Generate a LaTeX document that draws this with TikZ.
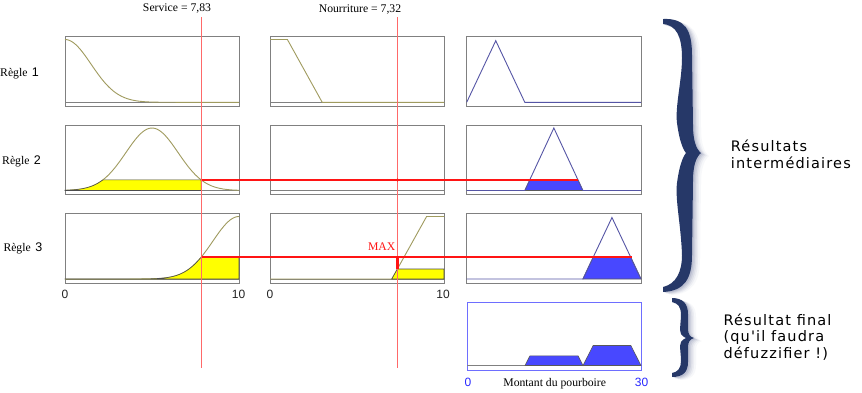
\documentclass[tikz,border=0pt]{standalone}
\usepackage{fontspec}
\setmainfont{Liberation Serif}
\newfontfamily\arialf{Liberation Sans}
\newfontfamily\verdf{DejaVu Sans}[LetterSpace=8]
\definecolor{olivec}{RGB}{160,155,95}
\definecolor{framec}{RGB}{128,128,128}
\definecolor{mfblue}{RGB}{85,85,165}
\definecolor{fillblue}{RGB}{72,72,255}
\definecolor{pinkline}{RGB}{255,105,105}
\definecolor{redthick}{RGB}{255,20,20}
\definecolor{bracec}{RGB}{38,56,104}
\definecolor{finalframe}{RGB}{110,110,255}
\definecolor{yel}{RGB}{255,255,0}
\definecolor{axisnum}{RGB}{35,35,35}
\definecolor{bluenum}{RGB}{40,40,255}
\definecolor{shadowc}{RGB}{110,120,160}
\tikzset{
  panelframe/.style={draw=framec, line width=0.8pt},
  finalpanel/.style={draw=finalframe, line width=0.8pt},
  basel/.style={draw=framec, line width=0.8pt},
  mfo/.style={draw=olivec, line width=0.9pt},
  mfb/.style={draw=mfblue, line width=0.9pt},
  yfill/.style={fill=yel, draw=black!70, line width=0.6pt},
  bfill/.style={fill=fillblue, draw=black!65, line width=0.6pt},
  inputbar/.style={fill=pinkline},
  thickred/.style={draw=redthick, line width=2.2pt},
  serlab/.style={font=\fontsize{11.7}{14}\selectfont, inner sep=0pt},
  numlab/.style={font=\arialf\fontsize{12}{14}\selectfont, inner sep=0pt, text=axisnum},
  sidelab/.style={font=\verdf\fontsize{14.5}{16.7}\selectfont, inner sep=0pt, anchor=base west, text=black},
  bigbrace/.style={insert path={(663,19) .. controls (685,18) and (692,30) .. (692,55) -- (693,125) .. controls (693,140) and (696,149) .. (701,153) .. controls (696,157) and (693,166) .. (693,181) -- (692,255) .. controls (692,278) and (685,291) .. (663,292) -- (663,287) .. controls (676,284) and (682,272) .. (682,255) .. controls (681,225) and (675,200) .. (677,183) .. controls (679,168) and (682,158) .. (686,153) .. controls (682,148) and (679,138) .. (677,123) .. controls (675,106) and (682,80) .. (682,58) .. controls (682,36) and (676,25) .. (663,24) -- cycle}},
  smallbrace/.style={insert path={(672,298) .. controls (683,298) and (688,304) .. (688,314) -- (688,329) .. controls (688,334) and (690,337) .. (694,338) .. controls (690,339) and (688,342) .. (688,347) -- (688,362) .. controls (688,372) and (683,377) .. (672,377) -- (672,373) .. controls (678,372) and (681,368) .. (681,361) .. controls (681,353) and (679,346) .. (681,342) .. controls (682,340) and (684,339) .. (686,338) .. controls (684,337) and (682,336) .. (681,334) .. controls (679,330) and (681,322) .. (681,315) .. controls (681,307) and (678,303) .. (672,302) -- cycle}}
}
\begin{document}
\begin{tikzpicture}[x=1pt,y=-1pt]
\useasboundingbox (0,0) rectangle (862,392);
\fill[white] (0,0) rectangle (862,392);

% ---- panel frames and baselines
\foreach \cx in {65,270}{
  \foreach \t/\b/\bl in {36/106/102.3,125/194/190.5,213/283/279}{
    \draw[panelframe] (\cx,\t) rectangle (\cx+174,\b);
    \draw[basel] (\cx,\bl) -- (\cx+174,\bl);
  }
}
\foreach \t/\b/\bl in {36/106/102.3,125/194/190.5,213/283/279}{
  \draw[panelframe] (466.7,\t) rectangle (641,\b);
}
\draw[finalpanel] (467,302) rectangle (641,370);
\draw[basel] (467,365.5) -- (641,365.5);

% ---- column 1 : Service
\begin{scope}[shift={(65,102.3)},xscale=17.4,yscale=-62.8]
  \draw[mfo] plot[domain=0:10,samples=80,smooth] (\x,{exp(-\x*\x/4.5)});
\end{scope}
\begin{scope}[shift={(65,190.5)},xscale=17.4,yscale=-62.5]
  \draw[mfo] plot[domain=0:10,samples=80,smooth] (\x,{exp(-(\x-5)*(\x-5)/4.5)});
  \path[yfill] plot[domain=0:7.83,samples=80] (\x,{min(exp(-(\x-5)*(\x-5)/4.5),0.169)}) -- (7.83,0) -- (0,0) -- cycle;
\end{scope}
\begin{scope}[shift={(65,279)},xscale=17.4,yscale=-62.5]
  \draw[mfo] plot[domain=0:10,samples=80,smooth] (\x,{exp(-(\x-10)*(\x-10)/4.5)});
  \path[yfill] plot[domain=0:10,samples=100] (\x,{min(exp(-(\x-10)*(\x-10)/4.5),0.351)}) -- (10,0) -- (0,0) -- cycle;
\end{scope}

% ---- column 2 : Nourriture
\begin{scope}[shift={(270,102.3)},xscale=17.4,yscale=-62.8]
  \draw[mfo] (0,1) -- (1,1) -- (3,0) -- (10,0);
\end{scope}
\begin{scope}[shift={(270,279)},xscale=17.4,yscale=-62.5]
  \draw[mfo] (0,0) -- (7,0) -- (9,1) -- (10,1);
  \path[yfill] (7,0) -- (7.32,0.16) -- (10,0.16) -- (10,0) -- cycle;
\end{scope}

% ---- column 3 : Pourboire
\begin{scope}[shift={(466.7,102.3)},xscale=5.81,yscale=-61.6]
  \draw[mfb] (0,0) -- (5,1) -- (10,0) -- (30,0);
\end{scope}
\begin{scope}[shift={(466.7,190.5)},xscale=5.81,yscale=-62.5]
  \path[bfill] (10,0) -- (10.845,0.169) -- (19.155,0.169) -- (20,0) -- cycle;
  \draw[mfb] (0,0) -- (10,0) -- (15,1) -- (20,0) -- (30,0);
\end{scope}
\begin{scope}[shift={(466.7,279)},xscale=5.81,yscale=-61.5]
  \path[bfill] (20,0) -- (21.755,0.351) -- (28.245,0.351) -- (30,0) -- cycle;
  \draw[mfb] (0,0) -- (20,0) -- (25,1) -- (30,0);
\end{scope}

% ---- aggregated result
\begin{scope}[shift={(467,365.5)},xscale=5.8,yscale=-57]
  \path[bfill] (10,0) -- (10.845,0.169) -- (19.155,0.169) -- (20,0) -- (21.755,0.351) -- (28.245,0.351) -- (30,0) -- cycle;
\end{scope}

% ---- thin red input lines (as 1px bars)
\coordinate (sTop) at (201,17);
\coordinate (sBot) at (202.1,368);
\coordinate (nTop) at (397,17);
\coordinate (nBot) at (398.1,368);
\fill[inputbar] (sTop) rectangle (sBot);
\fill[inputbar] (nTop) rectangle (nBot);

% ---- thick red lines
\coordinate (r2a) at (201.5,179.9);
\coordinate (r2b) at (578,179.9);
\coordinate (r3a) at (201.5,257.1);
\coordinate (r3b) at (632,257.1);
\coordinate (m3a) at (397.5,257.1);
\coordinate (m3b) at (397.5,269);
\draw[thickred] (r2a) -- (r2b);
\draw[thickred] (r3a) -- (r3b);
\draw[thickred] (m3a) -- (m3b);
\fill[redthick] (397.5,179.9) circle (1.6);

% ---- labels
\node[serlab, anchor=base] (svc) at (177,11) {Service = 7,83};
\node[serlab, anchor=base] (nour) at (360,12) {Nourriture = 7,32};
\node[serlab, anchor=base west] (r1) at (0,76) {Règle\hspace{4.5pt}{\arialf\fontsize{12.5}{14}\selectfont 1}};
\node[serlab, anchor=base west] (r2) at (2,164) {Règle\hspace{4.5pt}{\arialf\fontsize{12.5}{14}\selectfont 2}};
\node[serlab, anchor=base west] (r3) at (3.3,251.5) {Règle\hspace{4.5pt}{\arialf\fontsize{12.5}{14}\selectfont 3}};
\node[serlab, anchor=base, text=redthick] (max) at (381.7,250.7) {MAX};

\node[numlab, anchor=base] (a0) at (65,298.3) {0};
\node[numlab, anchor=base] (a10) at (238.5,298.3) {10};
\node[numlab, anchor=base] (b0) at (270,298.3) {0};
\node[numlab, anchor=base] (b10) at (443,298.3) {10};
\node[numlab, anchor=base, text=bluenum] (c0) at (468,386.7) {0};
\node[numlab, anchor=base, text=bluenum] (c30) at (641.5,386.7) {30};
\node[serlab, anchor=base] (mont) at (554.7,386.7) {Montant du pourboire};

% ---- braces with soft shadow
\foreach \dx/\dy/\op in {8/3/0.05,6/2.5/0.08,4.5/2/0.11,3/1.5/0.15,1.5/1/0.2}{
  \fill[shadowc, opacity=\op, shift={(\dx,\dy)}, bigbrace];
  \fill[shadowc, opacity=\op, shift={(\dx,\dy)}, smallbrace];
}
\fill[bracec, bigbrace];
\fill[bracec, smallbrace];

% ---- side texts
\node[sidelab] (ri1) at (730.7,151.7) {Résultats};
\node[sidelab] (ri2) at (730.7,168.3) {intermédiaires};
\node[sidelab] (rf1) at (723.3,325) {Résultat final};
\node[sidelab] (rf2) at (723.3,341.7) {(qu'il faudra};
\node[sidelab] (rf3) at (723.3,358.3) {défuzzifier !)};
\end{tikzpicture}
\end{document}
